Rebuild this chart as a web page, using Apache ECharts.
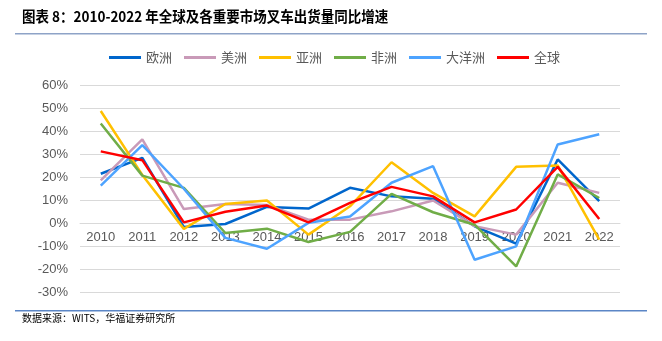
<!DOCTYPE html>
<html><head><meta charset="utf-8">
<script src="https://cdn.jsdelivr.net/npm/echarts@6/dist/echarts.min.js"></script>
<style>html,body{margin:0;padding:0;background:#fff}#c{width:662px;height:341px}</style>
</head><body><div id="c"></div>
<script>
const years = ['2010','2011','2012','2013','2014','2015','2016','2017','2018','2019','2020','2021','2022'];
const europe  = [21.5, 28.4, -1.6, -0.3, 7.1, 6.4, 15.4, 11.7, 10.7, -1.3, -8.8, 27.7, 9.6];
const america = [18.6, 36.4, 6.2, 8.4, 8.0, 1.6, 1.6, 5.2, 9.9, -1.2, -4.9, 17.6, 13.2];
const asia    = [48.7, 21.0, -2.4, 8.4, 9.9, -4.9, 7.4, 26.5, 13.2, 3.0, 24.5, 25.1, -7.1];
const africa  = [43.3, 20.7, 15.4, -4.2, -2.3, -8.1, -3.7, 12.8, 4.8, -0.6, -18.7, 21.2, 11.0];
const oceania = [16.4, 33.9, 15.0, -6.3, -11.0, 0.2, 3.0, 17.6, 24.8, -15.8, -10.0, 34.2, 38.6];
const global_ = [31.2, 27.4, 0.4, 5.0, 7.7, 0.4, 8.9, 15.8, 11.7, 0.4, 6.0, 24.5, 1.9];
const names = ['欧洲','美洲','亚洲','非洲','大洋洲','全球'];
const colors = ['#0066cc','#c99ab8','#ffc000','#70ad47','#4da3ff','#ff0000'];
const yTicks = {min:-30, max:60, interval:10};

const chart = echarts.init(document.getElementById('c'), null, {renderer:'canvas'});
const datas = [europe, america, asia, africa, oceania, global_];
const gridTop = 85, gridBottom = 48.5, H = 341;
const plotH = H - gridTop - gridBottom;
const zeroOffset = -plotH * (0 - yTicks.min) / (yTicks.max - yTicks.min);
chart.setOption({
  animation:false,
  color: colors,
  graphic:[
    {type:'text', x:22, y:9, scaleX:0.9, style:{text:'图表 8：2010-2022 年全球及各重要市场叉车出货量同比增速', font:'bold 15px "Noto Sans CJK SC"', fill:'#000'}},
    {type:'rect', shape:{x:15, y:33, width:632, height:1.5}, style:{fill:'#8ea3c7'}},
    {type:'rect', shape:{x:15, y:310, width:632, height:1.5}, style:{fill:'#5b86c6'}},
    {type:'text', x:22, y:313, style:{text:'数据来源：WITS，华福证券研究所', font:'10px "Noto Sans CJK SC"', fill:'#000'}}
  ],
  legend:{
    data:names, top:46, left:104, icon:'rect', itemWidth:32, itemHeight:3, itemGap:12,
    textStyle:{color:'#595959', fontSize:13, fontFamily:'"Noto Sans CJK SC"'}
  },
  grid:{left:80, right:42, top:gridTop, bottom:gridBottom},
  xAxis:{
    type:'category', data:years, boundaryGap:true, offset: zeroOffset,
    axisLine:{onZero:false, lineStyle:{color:'#d9d9d9'}},
    axisTick:{show:false},
    axisLabel:{color:'#595959', fontSize:13, margin:8, fontFamily:'Liberation Sans'}
  },
  yAxis:{
    type:'value', min:yTicks.min, max:yTicks.max, interval:yTicks.interval,
    axisLine:{show:false}, axisTick:{show:false},
    splitLine:{lineStyle:{color:'#d9d9d9'}},
    axisLabel:{color:'#595959', fontSize:13, margin:12, fontFamily:'Liberation Sans', formatter:v=>v+'%'}
  },
  series: names.map((n,i)=>({
    name:n, type:'line', data:datas[i], symbol:'none', lineStyle:{width:2.5, color:colors[i]}, itemStyle:{color:colors[i]}, z: i===5?10:2
  }))
});
</script></body></html>
